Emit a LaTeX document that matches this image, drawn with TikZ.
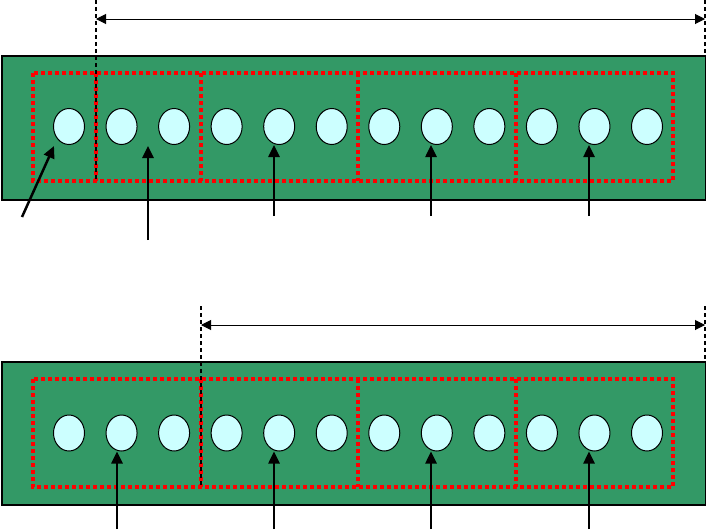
\documentclass[tikz,border=0pt]{standalone}
\usetikzlibrary{arrows.meta,shapes.geometric}
\definecolor{boardgreen}{HTML}{339966}
\definecolor{holecyan}{HTML}{CCFFFF}
\tikzset{
  board/.style={draw=black, line width=1.5pt, fill=boardgreen},
  hole/.style={ellipse, draw=black, line width=1pt, fill=holecyan, minimum width=31pt, minimum height=36pt, inner sep=0pt},
  group/.style={draw=red, line width=3.8pt, dash pattern=on 3.8pt off 3.2pt},
  guide/.style={draw=black, line width=1.5pt, dash pattern=on 4pt off 3pt},
  dim/.style={draw=black, line width=1pt, {Triangle[length=10pt,width=10pt]}-{Triangle[length=10pt,width=10pt]}},
  pointer/.style={draw=black, line width=2.5pt, -{Triangle[length=12pt,width=11pt]}}
}
\begin{document}
\begin{tikzpicture}[x=1pt,y=-1pt]
\useasboundingbox (0,0) rectangle (706,530);
% ---------- top board ----------
\node[board, minimum width=704pt, minimum height=144pt, inner sep=0pt, anchor=north west] (topboard) at (1,55) {};
\draw[group] (33,73) rectangle (673,181);
\foreach \x in {96,201,358,516} \draw[group] (\x,73) -- (\x,181);
\foreach \i in {1,...,12} \node[hole] (t\i) at ({69+(\i-1)*52.545},126.5) {};
% guides and dimension
\coordinate (tgl) at (96,0);
\coordinate (tglb) at (96,181);
\coordinate (tgr) at (705,0);
\coordinate (tgrb) at (705,55);
\draw[guide] (tgl) -- (tglb);
\draw[guide] (tgr) -- (tgrb);
\coordinate (tdl) at (96,19);
\coordinate (tdr) at (705,19);
\draw[dim] (tdl) -- (tdr);
% pointers
\coordinate (tp1) at (22,217);
\coordinate (tp1h) at (54,146);
\coordinate (tp2) at (148,240);
\coordinate (tp2h) at (148,146);
\coordinate (tp3) at (274,216);
\coordinate (tp4) at (431,216);
\coordinate (tp5) at (589,216);
\draw[pointer] (tp1) -- (tp1h);
\draw[pointer] (tp2) -- (tp2h);
\draw[pointer] (tp3) -- (tp3 |- t5.south);
\draw[pointer] (tp4) -- (tp4 |- t8.south);
\draw[pointer] (tp5) -- (tp5 |- t11.south);
% ---------- bottom board ----------
\node[board, minimum width=704pt, minimum height=143pt, inner sep=0pt, anchor=north west] (botboard) at (1,361) {};
\draw[group] (33,379) rectangle (673,487);
\foreach \x in {201,358,516} \draw[group] (\x,379) -- (\x,487);
\foreach \i in {1,...,12} \node[hole] (b\i) at ({69+(\i-1)*52.545},433) {};
\coordinate (bgl) at (201,306);
\coordinate (bglb) at (201,487);
\coordinate (bgr) at (705,306);
\coordinate (bgrb) at (705,361);
\draw[guide] (bgl) -- (bglb);
\draw[guide] (bgr) -- (bgrb);
\coordinate (bdl) at (201,325);
\coordinate (bdr) at (705,325);
\draw[dim] (bdl) -- (bdr);
\coordinate (bp1) at (117,529);
\coordinate (bp2) at (274,529);
\coordinate (bp3) at (431,529);
\coordinate (bp4) at (589,529);
\draw[pointer] (bp1) -- (bp1 |- b2.south);
\draw[pointer] (bp2) -- (bp2 |- b5.south);
\draw[pointer] (bp3) -- (bp3 |- b8.south);
\draw[pointer] (bp4) -- (bp4 |- b11.south);
\end{tikzpicture}
\end{document}
